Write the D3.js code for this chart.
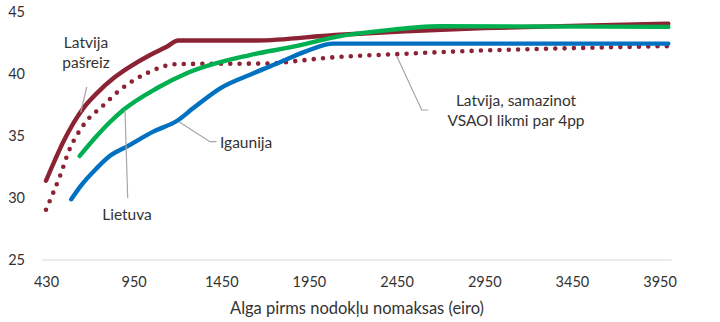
<!DOCTYPE html>
<html>
<head>
<meta charset="utf-8">
<script src="https://cdn.jsdelivr.net/npm/d3@7"></script>
<style>
  body { margin: 0; background: #fff; }
  text { font-family: Lato, "Open Sans", sans-serif; fill: #333; }
</style>
</head>
<body>
<svg id="chart" width="720" height="322"></svg>
<script>
// Axis tick labels
const xTickLabels = [430, 950, 1450, 1950, 2450, 2950, 3450, 3950];
const yTickLabels = [25, 30, 35, 40, 45];

// Latvija pašreiz (current)
const lvNowSalary = [430, 483, 533, 592, 651, 731, 830, 929, 1044, 1139, 1205, 1650, 2100, 2500, 2950, 3500, 4000];
const lvNowRate   = [31.4, 33.06, 34.54, 36.02, 37.23, 38.44, 39.65, 40.59, 41.53, 42.2, 42.7, 42.7, 43.15, 43.45, 43.7, 43.9, 44.05];

// Latvija, samazinot VSAOI likmi par 4pp
const lvCutSalary = [430, 473, 513, 568, 632, 691, 751, 869, 1025, 1196, 1730, 1880, 2050, 2450, 2950, 3500, 4000];
const lvCutRate   = [29.05, 30.43, 31.77, 33.87, 35.48, 36.53, 37.23, 38.71, 40.06, 40.8, 40.85, 41.05, 41.3, 41.6, 41.9, 42.1, 42.25];

// Lietuva
const ltSalary = [630, 731, 810, 889, 1082, 1253, 1614, 1861, 2128, 2356, 2700, 4000];
const ltRate   = [33.39, 35.0, 36.13, 37.1, 38.85, 40.06, 41.53, 42.2, 43.06, 43.47, 43.85, 43.8];

// Igaunija
const eeSalary = [580, 632, 731, 810, 909, 1062, 1205, 1289, 1444, 1634, 1785, 1936, 2090, 4000];
const eeRate   = [29.9, 30.9, 32.4, 33.4, 34.14, 35.35, 36.29, 37.23, 38.85, 40.06, 40.95, 41.85, 42.45, 42.45];

const RED = "#8C2334", GREEN = "#00B050", BLUE = "#0070C0";
const FONT = "Lato, 'Open Sans', sans-serif";

const svg = d3.select("#chart");

// Category-style axis: first label step (430→950) is spaced like the later 500 steps
const x = d3.scaleLinear().domain([430, 950, 4000]).range([46, 133.6, 668.3]);
const y = d3.scaleLinear().domain([25, 45]).range([260, 12]);

// Baseline
svg.append("line")
  .attr("x1", 41.7).attr("x2", 671.7)
  .attr("y1", y(25)).attr("y2", y(25))
  .attr("stroke", "#D9D9D9").attr("stroke-width", 1);

// Y axis labels
const yAxis = d3.axisLeft(y).tickValues(yTickLabels).tickSize(0).tickPadding(0);
svg.append("g").attr("transform", "translate(25,0)").call(yAxis)
  .call(g => g.select(".domain").remove())
  .selectAll("text").attr("font-size", 14.5).attr("fill", "#333")
  .attr("font-family", FONT);

// X axis labels
const xAxis = d3.axisBottom(x).tickValues(xTickLabels).tickSize(0).tickPadding(0).tickFormat(d3.format("d"));
svg.append("g").attr("transform", "translate(0,277)").call(xAxis)
  .call(g => g.select(".domain").remove())
  .selectAll("text").attr("font-size", 14.5).attr("fill", "#333")
  .attr("font-family", FONT);

// Axis title
svg.append("text")
  .attr("x", 357).attr("y", 314)
  .attr("text-anchor", "middle").attr("font-size", 16.5)
  .text("Alga pirms nodokļu nomaksas (eiro)");

const line = d3.line().x(d => x(d[0])).y(d => y(d[1])).curve(d3.curveMonotoneX);
const zip = (a, b) => a.map((v, i) => [v, b[i]]);

// Series
svg.append("path").datum(zip(lvCutSalary, lvCutRate))
  .attr("d", line).attr("fill", "none")
  .attr("stroke", RED).attr("stroke-width", 4.6)
  .attr("stroke-linecap", "round").attr("stroke-dasharray", "0 9.3");

svg.append("path").datum(zip(eeSalary, eeRate))
  .attr("d", line).attr("fill", "none")
  .attr("stroke", BLUE).attr("stroke-width", 4.4)
  .attr("stroke-linecap", "round").attr("stroke-linejoin", "round");

svg.append("path").datum(zip(lvNowSalary, lvNowRate))
  .attr("d", line).attr("fill", "none")
  .attr("stroke", RED).attr("stroke-width", 4.4)
  .attr("stroke-linecap", "round").attr("stroke-linejoin", "round");

svg.append("path").datum(zip(ltSalary, ltRate))
  .attr("d", line).attr("fill", "none")
  .attr("stroke", GREEN).attr("stroke-width", 4.4)
  .attr("stroke-linecap", "round").attr("stroke-linejoin", "round");

// Leader lines for the series labels
const leaders = [
  [[86.7, 87], [80.7, 112.5]],
  [[125, 110], [127.7, 198]],
  [[179, 121.7], [210, 141.7], [216.5, 141.7]],
  [[396.7, 56], [421.7, 110], [428.3, 110]]
];
leaders.forEach(pts => {
  svg.append("path").attr("d", d3.line()(pts))
    .attr("fill", "none").attr("stroke", "#A6A6A6").attr("stroke-width", 1.2);
});

// Series labels
const labels = [
  { lines: ["Latvija", "pašreiz"], x: 86, y: 48, anchor: "middle" },
  { lines: ["Lietuva"], x: 127, y: 220, anchor: "middle" },
  { lines: ["Igaunija"], x: 220, y: 148, anchor: "start" },
  { lines: ["Latvija, samazinot", "VSAOI likmi par 4pp"], x: 516, y: 106, anchor: "middle" }
];
labels.forEach(l => {
  const t = svg.append("text").attr("text-anchor", l.anchor).attr("font-size", 15.5);
  l.lines.forEach((s, i) => {
    t.append("tspan").attr("x", l.x).attr("y", l.y + i * 19.5).text(s);
  });
});
</script>
</body>
</html>
